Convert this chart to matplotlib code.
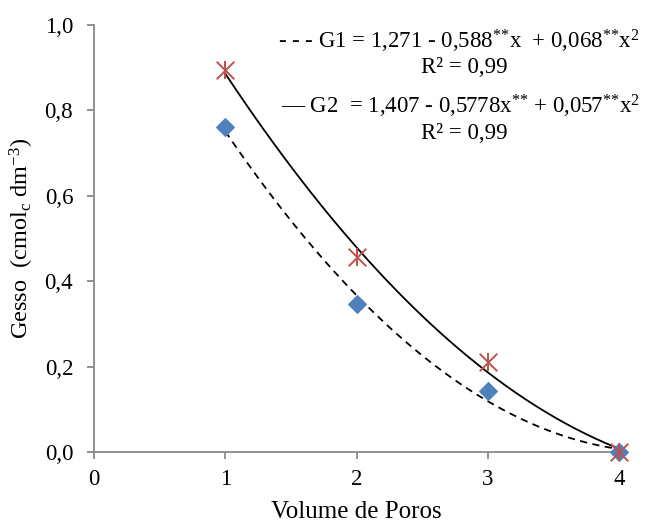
import numpy as np
import matplotlib
matplotlib.use("Agg")
import matplotlib.pyplot as plt

plt.rcParams['font.family'] = ['Liberation Serif', 'DejaVu Serif']
plt.rcParams['mathtext.fontset'] = 'custom'
plt.rcParams['mathtext.rm'] = 'Liberation Serif'
plt.rcParams['mathtext.default'] = 'regular'

# data
volume = [1, 2, 3, 4]
g1_values = [0.760, 0.347, 0.142, 0.0]
g2_values = [0.895, 0.457, 0.211, 0.0]

# regression coefficients as printed on the chart (a, b, c)
g1_coef = [1.271, -0.588, 0.068]
g2_coef = [1.407, -0.5778, 0.057]

x_ticks = [0, 1, 2, 3, 4]
y_ticks = [0.0, 0.2, 0.4, 0.6, 0.8, 1.0]

grey = '#898989'

fig = plt.figure(figsize=(6.51, 5.24), dpi=100)
ax = fig.add_axes([94 / 651, 1 - 452 / 524, 525 / 651, 427 / 524])

xs = np.linspace(volume[0], volume[-1], 200)
g1_fit = g1_coef[0] + g1_coef[1] * xs + g1_coef[2] * xs ** 2
g2_fit = g2_coef[0] + g2_coef[1] * xs + g2_coef[2] * xs ** 2
ax.plot(xs, g1_fit, color='black', linestyle=(0, (4, 3)), linewidth=1.3, zorder=2)
ax.plot(xs, g2_fit, color='black', linestyle='-', linewidth=1.3, zorder=2)

ax.scatter(volume, g1_values, marker='D', s=80, color='#4F81BD', zorder=3, clip_on=False)
ax.scatter(volume, g2_values, marker='x', s=160, color='#C0504D', linewidths=1.4, zorder=4, clip_on=False)
ax.scatter(volume, g2_values, marker='|', s=160, color='#C0504D', linewidths=1.4, zorder=4, clip_on=False)

ax.set_xlim(0, 4)
ax.set_ylim(0, 1.0)
ax.set_xticks(x_ticks)
ax.set_yticks(y_ticks)
ax.set_xticklabels([str(t) for t in x_ticks])
ax.set_yticklabels([f"{t:.1f}".replace('.', ',') for t in y_ticks])

for side in ['top', 'right']:
    ax.spines[side].set_visible(False)
for side in ['left', 'bottom']:
    ax.spines[side].set_color(grey)
    ax.spines[side].set_linewidth(1.3)
ax.tick_params(axis='both', colors=grey, labelcolor='black', labelsize=16.5,
               length=5, width=1.3, direction='out')
ax.tick_params(axis='y', pad=10)
ax.tick_params(axis='x', pad=7)

ax.set_xlabel('Volume de Poros', fontsize=18, labelpad=8)
ax.set_ylabel('Gesso  (cmol$_c$ dm$^{-3}$)', fontsize=17.5, labelpad=6)

eq_size = 16.5
ax.text(1.040, 0.961, '- - - G1 = 1,271 - 0,588$^{{*}{*}}$x  + 0,068$^{{*}{*}}$x$^2$',
        transform=ax.transAxes, ha='right', va='center', fontsize=eq_size)
ax.text(0.706, 0.900, 'R² = 0,99', transform=ax.transAxes,
        ha='center', va='center', fontsize=eq_size)
ax.text(1.040, 0.810, '— G2  = 1,407 - 0,5778x$^{{*}{*}}$ + 0,057$^{{*}{*}}$x$^2$',
        transform=ax.transAxes, ha='right', va='center', fontsize=eq_size)
ax.text(0.706, 0.747, 'R² = 0,99', transform=ax.transAxes,
        ha='center', va='center', fontsize=eq_size)

fig.savefig('out.png', dpi=100)
